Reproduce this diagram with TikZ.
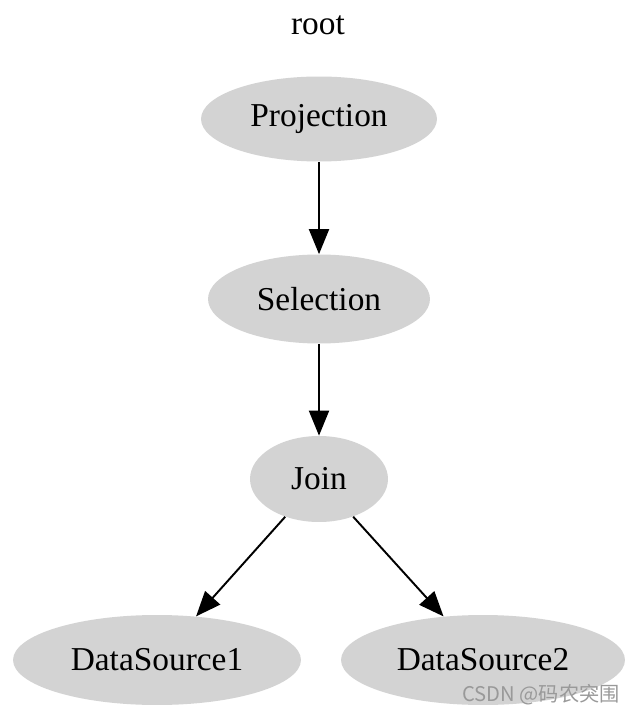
\documentclass[tikz,border=0pt]{standalone}
\usepackage{fontspec}
\setmainfont{Liberation Serif}
\newfontfamily\cjk{Noto Sans CJK SC}
\usetikzlibrary{shapes.geometric, arrows.meta, positioning}

\begin{document}
\begin{tikzpicture}[x=0.02cm, y=-0.02cm, font=\fontsize{19}{22}\selectfont,
  op/.style={ellipse, draw=none, fill=lightgraynode, inner sep=0pt},
  edge/.style={-{Triangle[length=0.5cm, width=0.4cm]}, line width=1.1pt}]
\definecolor{lightgraynode}{HTML}{D3D3D3}
\useasboundingbox (0,0) rectangle (640,715);
\node (title) at (318, 25) {root};
\node[op, minimum width=4.72cm, minimum height=1.7cm] (projection) at (319, 119) {Projection};
\node[op, minimum width=4.44cm, minimum height=1.78cm] (selection) at (319, 299) {Selection};
\node[op, minimum width=2.76cm, minimum height=1.72cm] (join) at (319, 479) {Join};
\node[op, minimum width=5.76cm, minimum height=1.8cm] (source1) at (157, 660) {DataSource1};
\node[op, minimum width=5.68cm, minimum height=1.8cm] (source2) at (483, 660) {DataSource2};
\draw[edge] (projection) -- (selection);
\draw[edge] (selection) -- (join);
\draw[edge] (join) -- (source1);
\draw[edge] (join) -- (source2);
% watermark
\node[text=black!40, font=\cjk\fontsize{11.5}{13}\selectfont, anchor=east] (mark) at (626, 695) {CSDN @码农突围};
\end{tikzpicture}
\end{document}
